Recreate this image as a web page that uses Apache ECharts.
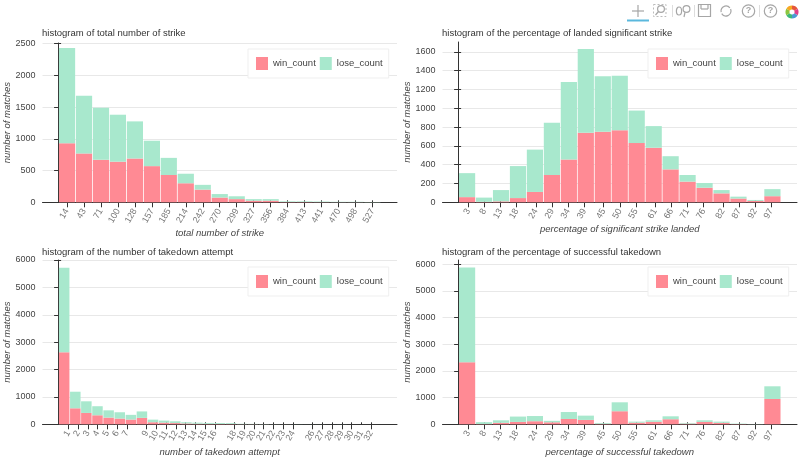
<!DOCTYPE html>
<html><head><meta charset="utf-8">
<style>html,body{margin:0;padding:0;background:#fff}#c{width:800px;height:458px}</style>
<script src="https://cdn.jsdelivr.net/npm/echarts@6/dist/echarts.min.js"></script>
</head><body><div id="c"></div>
<script>
// --- Data ---
const strikeCenters = [14.2,42.7,71.2,99.6,128.1,156.6,185,213.5,242,270.5,299,327.4,355.9,384.4,412.8,441.3,469.8,498.2,526.7];
const strikeTicks = [14,43,71,100,128,157,185,214,242,270,299,327,356,384,413,441,470,498,527];
const strikeWin  = [930,770,670,640,690,570,430,300,200,75,50,25,25,5,5,3,2,2,1];
const strikeLose = [1500,910,820,740,585,400,270,150,75,55,45,25,25,10,10,9,6,6,4];

const pctCenters = [2.63,7.89,13.16,18.42,23.68,28.95,34.21,39.47,44.74,50,55.26,60.53,65.79,71.05,76.32,81.58,86.84,92.11,97.37];
const pctTicks = [3,8,13,18,24,29,34,39,45,50,55,61,66,71,76,82,87,92,97];
const landedWin  = [55,5,10,45,110,290,455,740,750,765,630,580,350,220,155,95,40,15,65];
const landedLose = [255,45,120,340,450,555,825,890,590,580,345,230,140,70,50,35,20,10,75];

const attemptCenters = [0.57,1.71,2.84,3.98,5.12,6.26,7.4,8.53,9.67,10.81,11.95,13.09,14.22,15.36,16.5,17.64,18.78,19.91,21.05,22.19,23.33,24.47,25.6,26.74,27.88,29.02,30.16,31.29,32.43];
const attemptTicks = [1,2,3,4,5,6,7,9,10,11,12,13,14,15,16,18,19,20,21,22,23,24,26,27,28,29,30,31,32];
const attemptExtraLabel = [31];
const attemptWin  = [2630,585,415,330,245,210,175,235,75,60,45,30,20,15,12,10,5,5,3,2,2,1,1,1,1,0,0,0,0];
const attemptLose = [3090,605,425,330,265,230,170,235,95,75,65,45,40,35,33,30,13,10,7,4,3,3,2,2,1,2,1,1,1];

const successWin  = [2325,10,55,90,115,75,200,165,20,490,60,95,190,25,90,55,10,3,950];
const successLose = [3555,70,95,200,195,55,260,160,30,335,40,55,110,25,60,45,15,7,475];

const strikeY = [0,500,1000,1500,2000,2500];
const landedY = [0,200,400,600,800,1000,1200,1400,1600];
const attemptY = [0,1000,2000,3000,4000,5000,6000];

const winColor = '#ff8a94', loseColor = '#a8e8cd';
const textColor = '#444444';
const font = '"Liberation Sans", Arial, sans-serif';

const panels = [
 {title:'histogram of total number of strike', xName:'total number of strike', left:42.5, top:43, bottom:202.3, titleTop:28.5,
  centers:strikeCenters, xTicks:strikeTicks, win:strikeWin, lose:strikeLose, yTicks:strikeY, yMax:2510, xMin:-27, xMax:568, barW:16.2, nameGap:26, legendTop:49},
 {title:'histogram of the percentage of landed significant strike', xName:'percentage of significant strike landed', left:442.5, top:42, bottom:202.3, titleTop:28.5,
  centers:pctCenters, xTicks:pctTicks, win:landedWin, lose:landedLose, yTicks:landedY, yMax:1704, xMin:-5, xMax:105, barW:16.2, nameGap:22, legendTop:49},
 {title:'histogram of the number of takedown attempt', xName:'number of takedown attempt', left:42.5, top:260, bottom:424.3, titleTop:247, extraLabels:attemptExtraLabel,
  centers:attemptCenters, xTicks:attemptTicks, win:attemptWin, lose:attemptLose, yTicks:attemptY, yMax:6000, xMin:-1.65, xMax:34.65, barW:10.5, nameGap:23, legendTop:267},
 {title:'histogram of the percentage of successful takedown', xName:'percentage of successful takedown', left:442.5, top:260, bottom:424.3, titleTop:247,
  centers:pctCenters, xTicks:pctTicks, win:successWin, lose:successLose, yTicks:attemptY, yMax:6160, xMin:-5, xMax:105, barW:16.2, nameGap:23, legendTop:267}
];

const grid=[], xAxis=[], yAxis=[], series=[], title=[], legend=[];
const axisDark = '#333333';
const raw = v => String(v);
panels.forEach((p,i)=>{
  const tickLabel = {formatter:raw,rotate:60,margin:7,fontFamily:font,fontSize:9,color:'#777',hideOverlap:false,showMinLabel:true,showMaxLabel:true};
  grid.push({left:p.left, top:p.top, width:354.5, height:p.bottom-p.top, containLabel:false, outerBoundsMode:'none'});
  title.push({text:p.title, left:p.left-0.5, top:p.titleTop, padding:0,
    textStyle:{fontFamily:font,fontSize:9.5,fontWeight:'normal',color:'#333'}});
  legend.push({data:['win_count','lose_count'], left:p.left+205.5, top:p.legendTop, orient:'horizontal',
    padding:[8,6,8,8], itemWidth:12, itemHeight:13, itemGap:4,
    backgroundColor:'#fff', borderColor:'#efefef', borderWidth:1, icon:'rect', selectedMode:false,
    textStyle:{fontFamily:font,fontSize:9.5,color:textColor}});
  xAxis.push({type:'value', gridIndex:i, min:p.xMin, max:p.xMax, name:p.xName, nameLocation:'middle', nameGap:p.nameGap, nameMoveOverlap:false,
    nameTextStyle:{fontFamily:font,fontSize:9.5,fontStyle:'italic',color:textColor},
    axisLine:{show:true,onZero:false,lineStyle:{color:axisDark,width:1}},
    axisTick:{show:true,length:5,customValues:p.xTicks,lineStyle:{color:axisDark}},
    axisLabel:Object.assign({show:true,customValues:p.xTicks},tickLabel),
    splitLine:{show:false}});
  xAxis.push({type:'value', gridIndex:i, min:p.xMin, max:p.xMax, position:'bottom', offset:0,
    axisLine:{show:false}, splitLine:{show:false},
    axisLabel:p.extraLabels ? Object.assign({show:true,customValues:p.extraLabels},tickLabel) : {show:false},
    axisTick:{show:true,inside:true,length:2,customValues:p.xTicks,lineStyle:{color:axisDark}}});
  yAxis.push({type:'value', gridIndex:i, min:0, max:p.yMax, position:'left', name:'number of matches', nameLocation:'middle',
    nameGap:30, nameMoveOverlap:false, nameTextStyle:{fontFamily:font,fontSize:9.5,fontStyle:'italic',color:textColor},
    axisLine:{show:true,lineStyle:{color:axisDark,width:1}},
    axisTick:{show:true,length:4.5,customValues:p.yTicks,lineStyle:{color:axisDark}},
    axisLabel:{show:true,customValues:p.yTicks,formatter:raw,margin:7,fontFamily:font,fontSize:9,color:textColor,showMinLabel:true,showMaxLabel:true},
    splitLine:{show:true,lineStyle:{color:'#e8e8e8',width:1}}});
  yAxis.push({type:'value', gridIndex:i, min:0, max:p.yMax, position:'left', offset:0,
    axisLine:{show:false}, axisLabel:{show:false}, splitLine:{show:false},
    axisTick:{show:true,inside:true,length:2.5,customValues:p.yTicks,lineStyle:{color:axisDark}}});
  const mk=(name,vals,color)=>({name,type:'bar',stack:'s'+i,xAxisIndex:i*2,yAxisIndex:i*2,
    barWidth:p.barW, encode:{x:1,y:0}, data:vals.map((v,k)=>[v,p.centers[k]]),
    itemStyle:{color,borderWidth:0}, silent:true});
  series.push(mk('win_count',p.win,winColor), mk('lose_count',p.lose,loseColor));
});

// Toolbar decoration at the top right
const g='#a6a6a6', st={stroke:g,lineWidth:1.2,fill:null};
const line=(x1,y1,x2,y2,s)=>({type:'line',shape:{x1,y1,x2,y2},style:Object.assign({},st,s||{}),silent:true});
const ring=(cx,cy,r)=>({type:'circle',shape:{cx,cy,r},style:Object.assign({},st),silent:true});
const helpIcon=(cx)=>[ring(cx,11,6.2),{type:'text',x:cx,y:11,silent:true,style:{text:'?',fill:g,font:'bold 9px '+font,align:'center',verticalAlign:'middle'}}];
const logoColors=['#e5573a','#e0408a','#4a9ad4','#3dba78','#8cc63f','#f7a823'];
const logo=logoColors.map((c,k)=>({type:'sector',silent:true,shape:{cx:792,cy:12,r:6.5,r0:2.6,startAngle:k*Math.PI/3-Math.PI/2,endAngle:(k+1)*Math.PI/3-Math.PI/2},style:{fill:c}}));
const graphic=[
  {type:'rect',silent:true,shape:{x:627,y:19.5,width:22,height:2},style:{fill:'#5bb8dd'}},
  line(632,11,644,11),line(638,5,638,17),
  {type:'rect',silent:true,shape:{x:653.5,y:4.5,width:12.5,height:12},style:{stroke:'#bbb',lineWidth:1,lineDash:[2,2],fill:null}},
  ring(661,9,3.4),line(658.5,11.5,655.5,15),
  line(672.5,5,672.5,17,{stroke:'#ddd',lineWidth:1}),
  {type:'ellipse',silent:true,shape:{cx:679,cy:11,rx:2.6,ry:4},style:Object.assign({},st)},
  ring(686.5,9,3.4),line(685,12.5,684,17),
  line(694.5,5,694.5,17,{stroke:'#ddd',lineWidth:1}),
  {type:'rect',silent:true,shape:{x:698.5,y:4.5,width:12,height:12},style:Object.assign({},st)},
  line(701,9,708,9),line(701,4.5,701,9),line(708,4.5,708,9),
  {type:'arc',silent:true,shape:{cx:726,cy:11,r:5,startAngle:-0.4,endAngle:2.6},style:Object.assign({},st)},
  {type:'arc',silent:true,shape:{cx:726,cy:11,r:5,startAngle:2.9,endAngle:5.6},style:Object.assign({},st)},
  ...helpIcon(748.5),
  line(759.5,5,759.5,17,{stroke:'#ddd',lineWidth:1}),
  ...helpIcon(770.5),
  ...logo
];

const chart=echarts.init(document.getElementById('c'),null,{renderer:'canvas'});
chart.setOption({animation:false,backgroundColor:'#fff',title,legend,grid,xAxis,yAxis,series,graphic,tooltip:{show:false}});
</script></body></html>
